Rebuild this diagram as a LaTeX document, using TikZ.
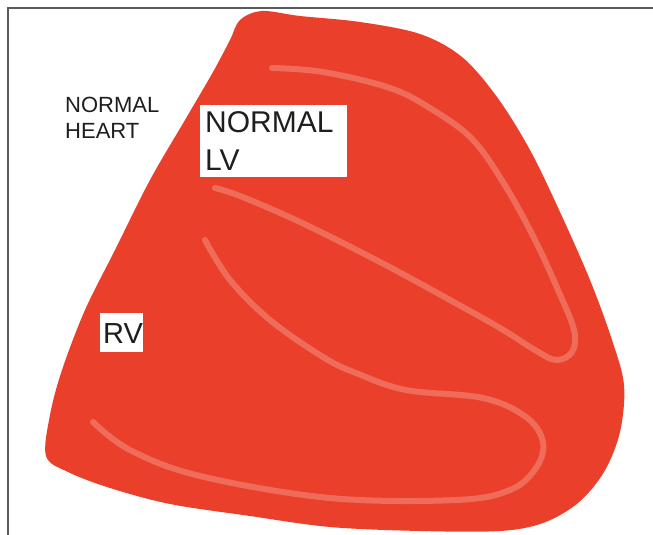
\documentclass[tikz,border=0pt]{standalone}
\usepackage{fontspec}
\setmainfont{Liberation Sans}
\definecolor{heartred}{RGB}{234,63,42}
\definecolor{fibre}{RGB}{240,108,90}
\definecolor{ink}{RGB}{30,30,30}
\definecolor{framegray}{RGB}{90,90,90}
\begin{document}
\begin{tikzpicture}[x=1pt,y=-1pt,
  fibreline/.style={draw=fibre, line width=6pt, line cap=round, line join=round},
  labelbox/.style={fill=white, draw=none, inner sep=0pt, anchor=north west},
  biglabel/.style={text=ink, inner sep=0pt, anchor=base west, font=\fontsize{30}{36}\selectfont},
  smalllabel/.style={text=ink, inner sep=0pt, anchor=base west, font=\fontsize{22}{27}\selectfont}]
  \useasboundingbox (0,0) rectangle (653,535);
  \fill[white] (0,0) rectangle (653,535);

  % frame lines along the top and left
  \draw[framegray, line width=1.3pt] (8,535) -- (8,8) -- (653,8);

  % heart silhouette
  \fill[heartred] plot[smooth cycle, tension=0.55] coordinates {
    (262,11) (300,16) (360,22) (420,34) (462,57) (497,97) (530,150)
    (560,212) (590,280) (612,340) (624,385) (620,432) (604,472)
    (578,503) (543,523) (500,531) (420,531) (330,527) (250,516)
    (170,504) (110,488) (68,472) (46,456) (50,415) (62,370) (85,310)
    (115,250) (150,180) (185,120) (213,72) (230,40) (240,20)};

  % muscle band of the left ventricle
  \draw[fibreline] plot[smooth, tension=0.6] coordinates {
    (272,68) (323,72) (390,88) (433,110) (473,140) (506,187)
    (535,240) (558,290) (574,330) (572,352) (556,360) (535,350)
    (500,328) (450,300) (380,262) (300,222) (240,196) (215,188)};

  % muscle band of the right ventricle
  \draw[fibreline] plot[smooth, tension=0.6] coordinates {
    (205,240) (230,280) (270,320) (323,357) (356,373) (406,390)
    (483,398) (526,417) (543,442) (536,468) (510,490) (456,500)
    (330,498) (200,476) (130,450) (93,422)};

  % labels
  \node[smalllabel] (heartA) at (65,112) {NORMAL};
  \node[smalllabel] (heartB) at (65,138) {HEART};

  \node[labelbox, minimum width=147pt, minimum height=72pt] (lvbox) at (200,105) {};
  \node[biglabel] (lvA) at (205,132) {NORMAL};
  \node[biglabel] (lvB) at (205,170) {LV};

  \node[labelbox, minimum width=43pt, minimum height=39pt] (rvbox) at (100,313) {};
  \node[biglabel, font=\fontsize{29}{34}\selectfont] (rvA) at (103,343) {RV};
\end{tikzpicture}
\end{document}
